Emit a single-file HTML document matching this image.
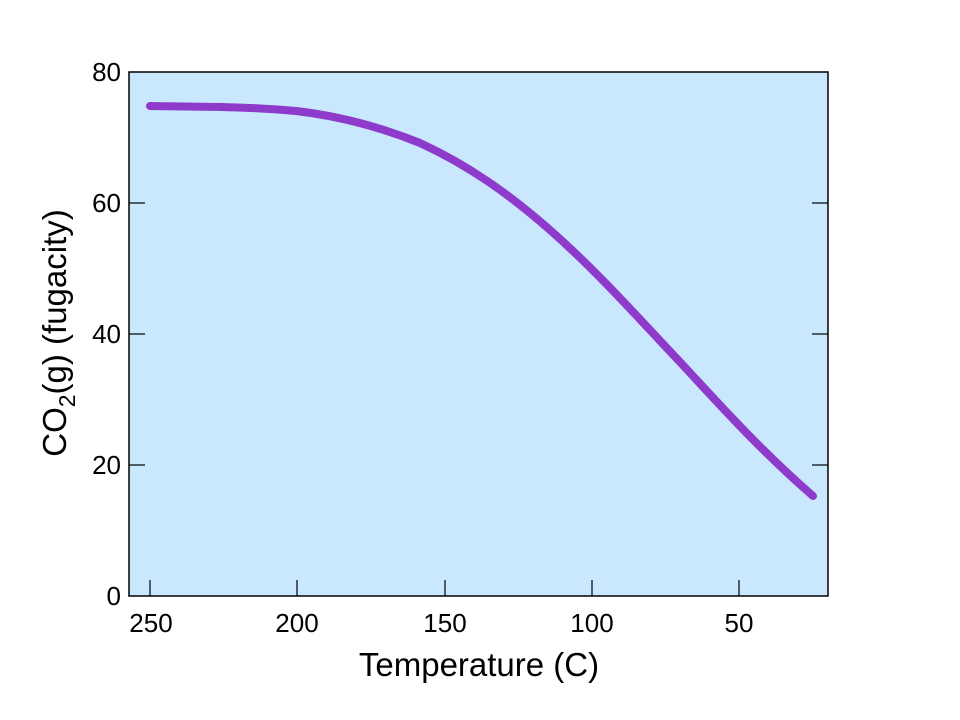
<!DOCTYPE html>
<html><head><style>body{margin:0;background:#fff}svg{display:block}</style></head><body>
<svg width="960" height="720" xmlns="http://www.w3.org/2000/svg" font-family="Liberation Sans, sans-serif">
<rect x="129" y="72" width="699" height="524" fill="#c9e8fd" stroke="#000" stroke-width="1.5"/>
<g stroke="#000" stroke-width="1.2">
<line x1="150" y1="596" x2="150" y2="580"/><line x1="297" y1="596" x2="297" y2="580"/><line x1="445" y1="596" x2="445" y2="580"/><line x1="592" y1="596" x2="592" y2="580"/><line x1="739" y1="596" x2="739" y2="580"/>
<line x1="129" y1="465" x2="145" y2="465"/><line x1="129" y1="334" x2="145" y2="334"/><line x1="129" y1="203" x2="145" y2="203"/>
<line x1="828" y1="465" x2="812" y2="465"/><line x1="828" y1="334" x2="812" y2="334"/><line x1="828" y1="203" x2="812" y2="203"/>
</g>
<g font-size="26" text-anchor="middle">
<text x="151" y="632">250</text><text x="297" y="632">200</text><text x="445" y="632">150</text><text x="592" y="632">100</text><text x="739" y="632">50</text>
</g>
<g font-size="26" text-anchor="end">
<text x="121" y="605">0</text><text x="121" y="474">20</text><text x="121" y="343">40</text><text x="121" y="212">60</text><text x="121" y="81">80</text>
</g>
<text x="479" y="676" font-size="33" text-anchor="middle">Temperature (C)</text>
<text transform="translate(66,333) rotate(-90)" font-size="33" text-anchor="middle">CO<tspan font-size="23" dy="9">2</tspan><tspan dy="-9">(g) (fugacity)</tspan></text>
<path d="M150,106 C200,107 240,106 296,111 C340,116 380,127 420,143 C470,166 510,195 550,230 C600,274 640,320 680,362 C720,405 760,450 813,496" fill="none" stroke="#8e3bcc" stroke-width="8" stroke-linecap="round"/>
</svg>
</body></html>
